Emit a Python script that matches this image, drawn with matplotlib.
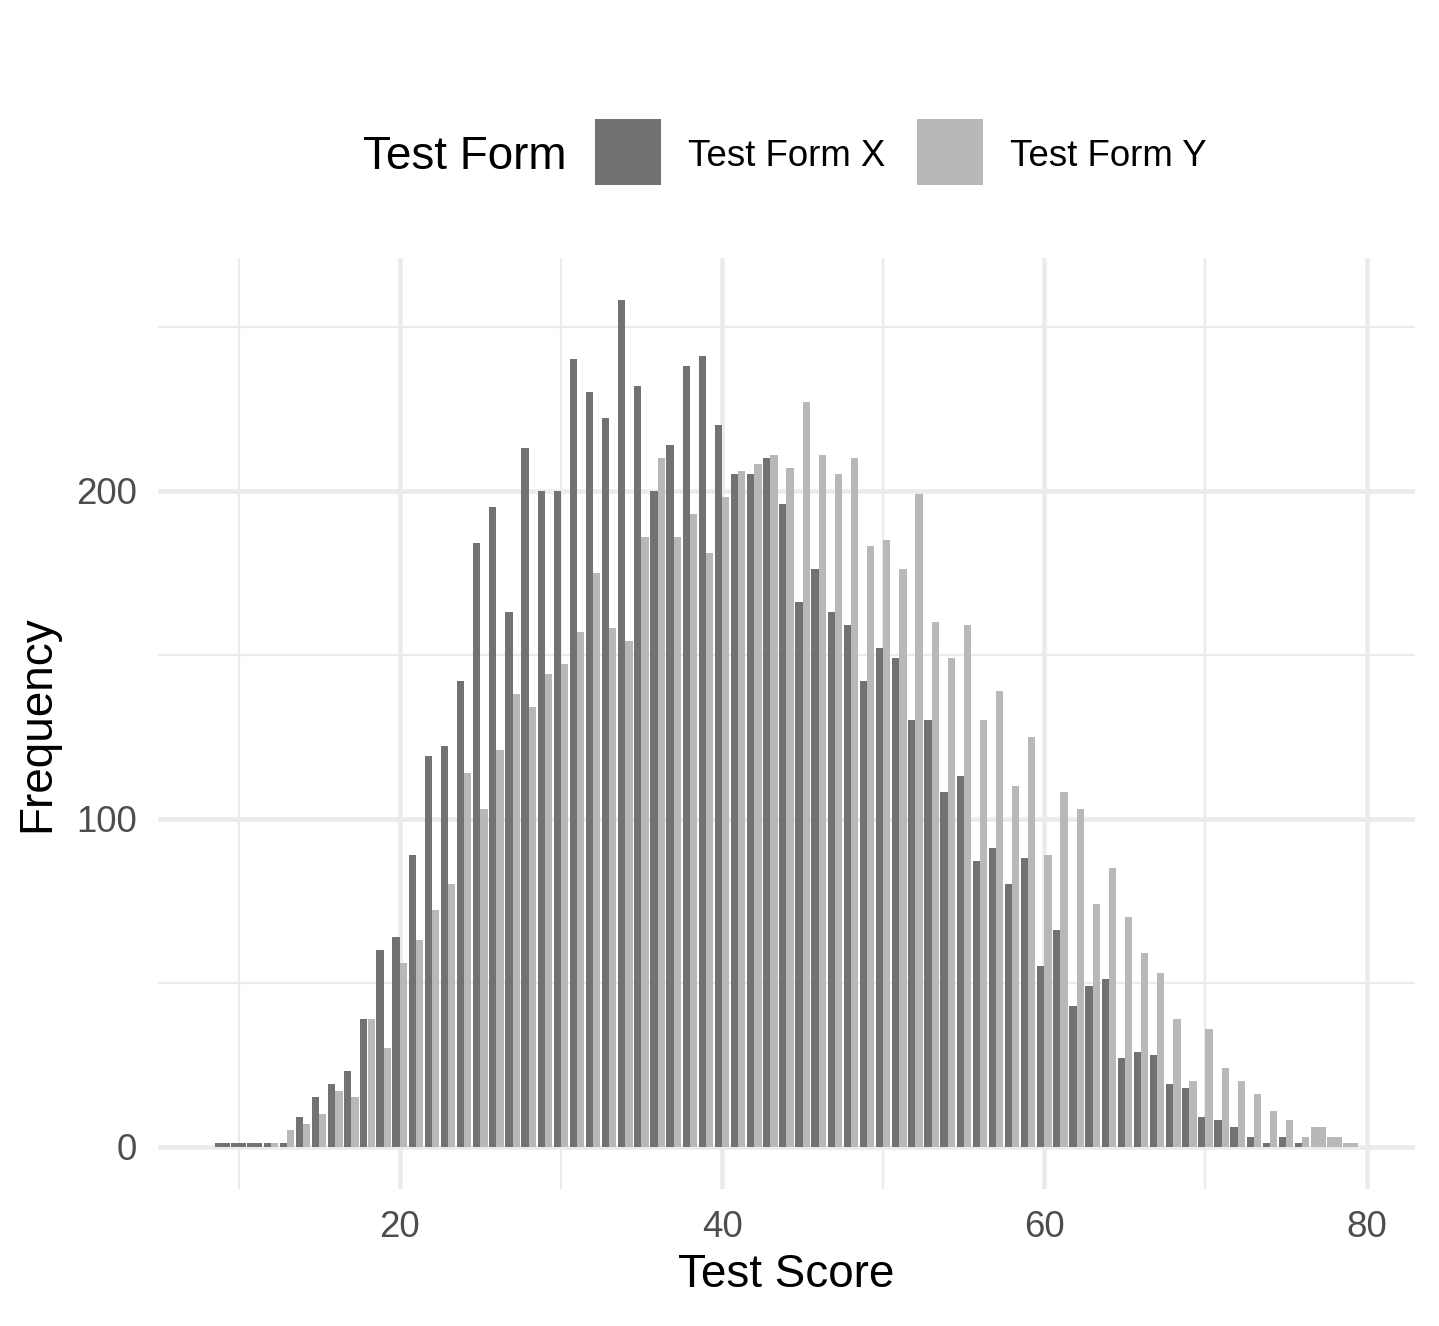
import numpy as np
import matplotlib
matplotlib.use("Agg")
import matplotlib.pyplot as plt
from matplotlib.patches import Rectangle

plt.rcParams["font.family"] = ["Liberation Sans", "DejaVu Sans"]

# frequency of each test score, per test form (0 = score not observed)
SCORES = list(range(9, 80))
FORM_X = [1, 1, 1, 1, 1, 9, 15, 19, 23, 39, 60, 64, 89, 119, 122, 142, 184, 195,
          163, 213, 200, 200, 240, 230, 222, 258, 232, 200, 214, 238, 241, 220,
          205, 205, 210, 196, 166, 176, 163, 159, 142, 152, 149, 130, 130, 108,
          113, 87, 91, 80, 88, 55, 66, 43, 49, 51, 27, 29, 28, 19, 18, 9, 8, 6,
          3, 1, 3, 1, 0, 0, 0]
FORM_Y = [0, 0, 0, 1, 5, 7, 10, 17, 15, 39, 30, 56, 63, 72, 80, 114, 103, 121,
          138, 134, 144, 147, 157, 175, 158, 154, 186, 210, 186, 193, 181, 198,
          206, 208, 211, 207, 227, 211, 205, 210, 183, 185, 176, 199, 160, 149,
          159, 130, 139, 110, 125, 89, 108, 103, 74, 85, 70, 59, 53, 39, 20, 36,
          24, 20, 16, 11, 8, 3, 6, 3, 1]
LABELS = ["Test Form X", "Test Form Y"]
COLORS = ["#727272", "#b8b8b8"]

GRID = "#ebebeb"
TICK = "#4d4d4d"

fig = plt.figure(figsize=(1439 / 300, 1326 / 300), dpi=300)
ax = fig.add_axes([158 / 1439, 137 / 1326, 1257 / 1439, 931 / 1326])

# ggplot-style dodge: two half bars when both forms have the score, else full width
W = 0.9
for s, vx, vy in zip(SCORES, FORM_X, FORM_Y):
    if vx and vy:
        ax.bar(s - W / 4, vx, width=W / 2, color=COLORS[0], linewidth=0, zorder=3)
        ax.bar(s + W / 4, vy, width=W / 2, color=COLORS[1], linewidth=0, zorder=3)
    elif vx:
        ax.bar(s, vx, width=W, color=COLORS[0], linewidth=0, zorder=3)
    elif vy:
        ax.bar(s, vy, width=W, color=COLORS[1], linewidth=0, zorder=3)

ax.set_xlim(5.0, 83.0)
ax.set_ylim(-12.9, 270.9)
ax.set_xticks([20, 40, 60, 80])
ax.set_xticks([10, 30, 50, 70], minor=True)
ax.set_yticks([0, 100, 200])
ax.set_yticks([50, 150, 250], minor=True)
ax.grid(True, which="major", color=GRID, linewidth=1.1, zorder=0)
ax.grid(True, which="minor", color=GRID, linewidth=0.55, zorder=0)
ax.set_axisbelow(True)
for sp in ax.spines.values():
    sp.set_visible(False)
ax.tick_params(which="both", length=0, labelsize=8.8, labelcolor=TICK, pad=5)

ax.set_xlabel("Test Score", fontsize=11, labelpad=2)
ax.set_ylabel("Frequency", fontsize=11, labelpad=4)

# legend drawn by hand in figure pixels (ggplot top legend, title at the left)
def fx(px):
    return px / 1439

def fy(py):
    return 1 - py / 1326

fig.text(fx(363), fy(157), "Test Form", fontsize=11, va="center", ha="left")
for x0, col, lab in [(595, COLORS[0], LABELS[0]), (917, COLORS[1], LABELS[1])]:
    fig.add_artist(Rectangle((fx(x0), fy(185)), fx(66), 66 / 1326,
                             transform=fig.transFigure, color=col, linewidth=0))
    fig.text(fx(x0 + 93), fy(157), lab, fontsize=8.8, va="center", ha="left")

fig.savefig("out.png", dpi=300, facecolor="white")
